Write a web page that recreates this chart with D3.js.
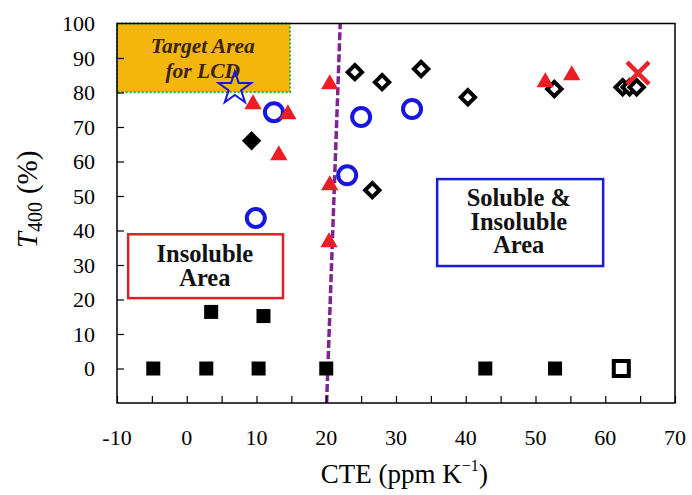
<!DOCTYPE html>
<html>
<head>
<meta charset="utf-8">
<script src="https://cdn.jsdelivr.net/npm/d3@7"></script>
<style>
  body { margin: 0; background: #fff; }
  svg { display: block; }
</style>
</head>
<body>
<div class="root"></div>
<script>
// Chart data: [CTE (ppm/K), T400 (%)]
const filledSquares = [[-4.8, 0], [2.8, 0], [10.3, 0], [20.0, 0], [42.8, 0], [52.8, 0], [3.5, 16.4], [11.0, 15.2]];
const openSquares = [[62.3, 0]];
const filledDiamonds = [[9.3, 66]];
const openDiamonds = [[24.1, 85.9], [28.0, 83.0], [33.6, 86.8], [40.3, 78.6], [26.6, 51.7], [52.7, 81.0], [62.5, 81.5], [63.5, 81.5], [64.5, 81.5]];
const openCircles = [[9.9, 43.6], [12.5, 74.3], [23.0, 56.0], [25.0, 72.9], [32.3, 75.2]];
const triangles = [[9.5, 76.6], [14.5, 73.7], [13.2, 61.8], [20.5, 82.4], [20.5, 53.1], [20.4, 36.6], [51.4, 83.0], [55.2, 85.0]];
const crosses = [[64.7, 85.6]];
const stars = [[6.9, 81.2]];
const boundary = [[20.05, -10], [22.0, 100]];

const xTicks = [-10, 0, 10, 20, 30, 40, 50, 60, 70];
const yTicks = [0, 10, 20, 30, 40, 50, 60, 70, 80, 90, 100];

// Dimensions
var margin = { top: 23.5, right: 17, bottom: 92, left: 117 },
    width = 692 - margin.left - margin.right,
    height = 495 - margin.top - margin.bottom;

const xScale = d3.scaleLinear().domain([-10, 70]).range([0, width]);
const yScale = d3.scaleLinear().domain([-10, 100]).range([height, 0]);

var svg = d3.select(".root").append("svg")
    .attr("width", 692)
    .attr("height", 495)
    .append("g")
    .attr("transform", "translate(" + margin.left + "," + margin.top + ")");

// Times-like face for every label
const times = sel => sel.attr("font-family", "'Liberation Serif', 'Times New Roman', serif");

// Target area box
svg.append("rect")
    .attr("x", xScale(-10))
    .attr("y", yScale(100))
    .attr("width", xScale(14.8) - xScale(-10))
    .attr("height", yScale(80.1) - yScale(100))
    .attr("fill", "#f4b60c")
    .attr("stroke", "#1fae3a")
    .attr("stroke-width", 2)
    .attr("stroke-dasharray", "2,2");

const target = svg.append("text")
    .call(times)
    .attr("font-size", 21.5)
    .attr("font-weight", 700)
    .attr("font-style", "italic")
    .attr("fill", "#3b2414")
    .attr("text-anchor", "middle");
target.append("tspan").attr("x", xScale(2.3)).attr("y", yScale(91.4)).text("Target Area");
target.append("tspan").attr("x", xScale(2.3)).attr("y", yScale(84.1)).text("for LCD");

// Insoluble area box
svg.append("rect")
    .attr("x", xScale(-8.4))
    .attr("y", yScale(38.9))
    .attr("width", xScale(13.8) - xScale(-8.4))
    .attr("height", yScale(20.4) - yScale(38.9))
    .attr("fill", "none")
    .attr("stroke", "#e41e26")
    .attr("stroke-width", 2.5);

const insol = svg.append("text")
    .call(times)
    .attr("font-size", 24.5)
    .attr("font-weight", 700)
    .attr("fill", "#111")
    .attr("text-anchor", "middle");
insol.append("tspan").attr("x", xScale(2.6)).attr("y", yScale(30.8)).text("Insoluble");
insol.append("tspan").attr("x", xScale(2.6)).attr("y", yScale(23.9)).text("Area");

// Soluble & insoluble area box
svg.append("rect")
    .attr("x", xScale(35.9))
    .attr("y", yScale(54.9))
    .attr("width", xScale(59.7) - xScale(35.9))
    .attr("height", yScale(29.7) - yScale(54.9))
    .attr("fill", "none")
    .attr("stroke", "#1b1bd6")
    .attr("stroke-width", 2.5);

const sol = svg.append("text")
    .call(times)
    .attr("font-size", 24.5)
    .attr("font-weight", 700)
    .attr("fill", "#111")
    .attr("text-anchor", "middle");
sol.append("tspan").attr("x", xScale(47.6)).attr("y", yScale(47.0)).text("Soluble &");
sol.append("tspan").attr("x", xScale(47.6)).attr("y", yScale(40.1)).text("Insoluble");
sol.append("tspan").attr("x", xScale(47.6)).attr("y", yScale(33.4)).text("Area");

// Boundary line
svg.append("path").datum(boundary)
    .attr("fill", "none")
    .attr("stroke", "#7d2590")
    .attr("stroke-width", 3.5)
    .attr("stroke-dasharray", "8,3")
    .attr("d", d3.line().x(d => xScale(d[0])).y(d => yScale(d[1])));

// Frame
svg.append("rect")
    .attr("width", width)
    .attr("height", height)
    .attr("fill", "none")
    .attr("stroke", "#000")
    .attr("stroke-width", 1.5);

// X axis (ticks pointing inward)
const xAxis = d3.axisBottom(xScale)
    .tickValues(d3.range(-10, 71, 5))
    .tickSize(-7)
    .tickFormat("");
svg.append("g")
    .attr("transform", "translate(0," + height + ")")
    .call(xAxis)
    .call(g => g.select(".domain").remove())
    .call(g => g.selectAll("line").attr("stroke-width", 1.2));

svg.append("g")
    .selectAll("text")
    .data(xTicks)
    .join("text")
    .call(times)
    .attr("font-size", 22)
    .attr("text-anchor", "middle")
    .attr("x", d => xScale(d))
    .attr("y", height + 42)
    .text(d => d);

// Y axis
const yAxis = d3.axisLeft(yScale)
    .tickValues(d3.range(0, 91, 10))
    .tickSize(-7)
    .tickFormat("");
svg.append("g")
    .call(yAxis)
    .call(g => g.select(".domain").remove())
    .call(g => g.selectAll("line").attr("stroke-width", 1.2));

svg.append("g")
    .selectAll("text")
    .data(yTicks)
    .join("text")
    .call(times)
    .attr("font-size", 22)
    .attr("text-anchor", "end")
    .attr("x", -22)
    .attr("y", d => yScale(d) + 7.5)
    .text(d => d);

// Axis titles
const xt = svg.append("text")
    .call(times)
    .attr("font-size", 27)
    .attr("text-anchor", "middle")
    .attr("x", xScale(31.2))
    .attr("y", height + 80);
xt.append("tspan").text("CTE (ppm K");
xt.append("tspan").attr("font-size", 16).attr("dy", -12).text("\u22121");
xt.append("tspan").attr("dy", 12).text(")");

const yt = svg.append("text")
    .call(times)
    .attr("font-size", 29)
    .attr("text-anchor", "middle")
    .attr("transform", "translate(" + (-80) + "," + yScale(49) + ") rotate(-90)");
yt.append("tspan").attr("font-style", "italic").text("T");
yt.append("tspan").attr("font-size", 20).attr("dy", 5).text("400");
yt.append("tspan").attr("dy", -5).attr("dx", 8).text("(%)");

// Markers
svg.append("g").selectAll("rect")
    .data(filledSquares)
    .join("rect")
    .attr("x", d => xScale(d[0]) - 7)
    .attr("y", d => yScale(d[1]) - 7)
    .attr("width", 14)
    .attr("height", 14)
    .attr("fill", "#000");

svg.append("g").selectAll("rect")
    .data(openSquares)
    .join("rect")
    .attr("x", d => xScale(d[0]) - 7.5)
    .attr("y", d => yScale(d[1]) - 7.5)
    .attr("width", 15)
    .attr("height", 15)
    .attr("fill", "#fff")
    .attr("stroke", "#000")
    .attr("stroke-width", 4);

const diamond = d3.symbol().type(d3.symbolDiamond2);

svg.append("g").selectAll("path")
    .data(filledDiamonds)
    .join("path")
    .attr("transform", d => "translate(" + xScale(d[0]) + "," + yScale(d[1]) + ")")
    .attr("d", diamond.size(240)())
    .attr("fill", "#000");

svg.append("g").selectAll("path")
    .data(openDiamonds)
    .join("path")
    .attr("transform", d => "translate(" + xScale(d[0]) + "," + yScale(d[1]) + ")")
    .attr("d", diamond.size(130)())
    .attr("fill", "#fff")
    .attr("stroke", "#000")
    .attr("stroke-width", 4);

svg.append("g").selectAll("circle")
    .data(openCircles)
    .join("circle")
    .attr("cx", d => xScale(d[0]))
    .attr("cy", d => yScale(d[1]))
    .attr("r", 9)
    .attr("fill", "#fff")
    .attr("stroke", "#1616e0")
    .attr("stroke-width", 4);

svg.append("g").selectAll("path")
    .data(triangles)
    .join("path")
    .attr("transform", d => "translate(" + xScale(d[0]) + "," + yScale(d[1]) + ")")
    .attr("d", d3.symbol().type(d3.symbolTriangle).size(130)())
    .attr("fill", "#ee1c24");

svg.append("g").selectAll("path")
    .data(crosses)
    .join("path")
    .attr("transform", d => "translate(" + xScale(d[0]) + "," + yScale(d[1]) + ")")
    .attr("d", "M-11,-11L11,11M-11,11L11,-11")
    .attr("stroke", "#e8262a")
    .attr("stroke-width", 4.5);

svg.append("g").selectAll("path")
    .data(stars)
    .join("path")
    .attr("transform", d => "translate(" + xScale(d[0]) + "," + yScale(d[1]) + ")")
    .attr("d", d3.symbol().type(d3.symbolStar).size(330)())
    .attr("fill", "none")
    .attr("stroke", "#1414e6")
    .attr("stroke-width", 2);
</script>
</body>
</html>
